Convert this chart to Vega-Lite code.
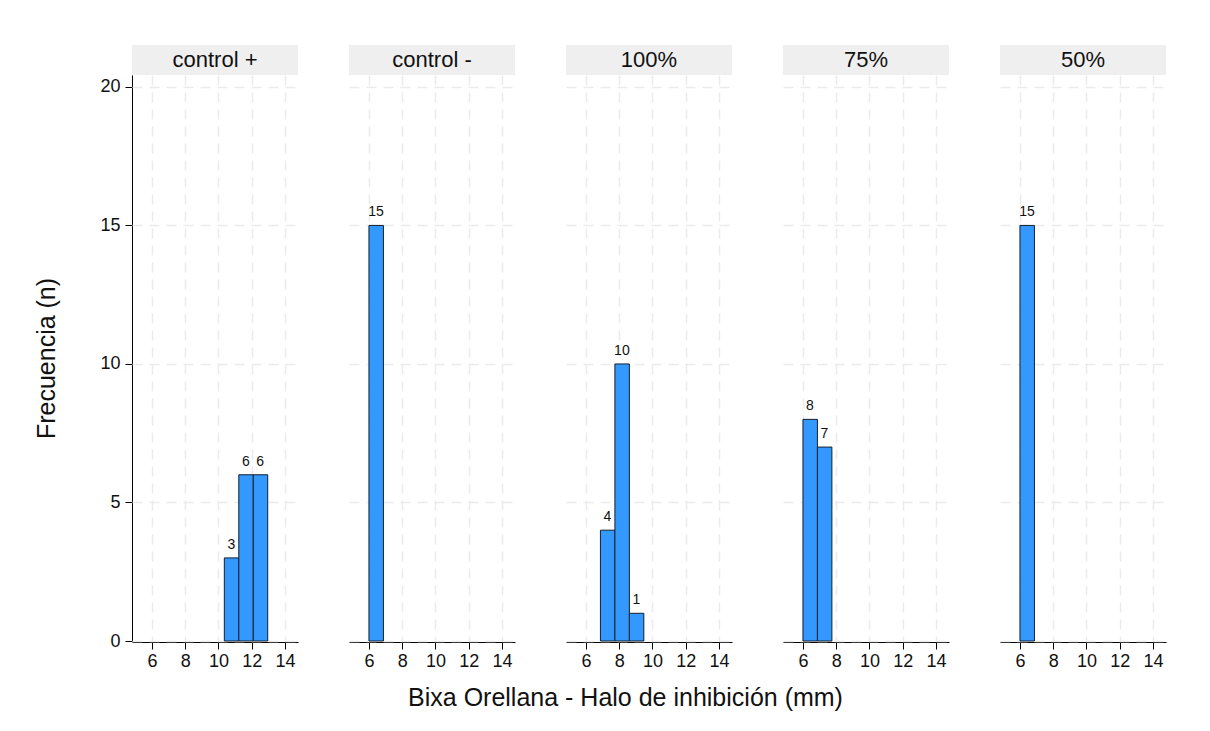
{
  "$schema": "https://vega.github.io/schema/vega-lite/v6.json",
  "padding": {"left": 34, "top": 45, "right": 10, "bottom": 10},
  "background": "white",
  "data": {"values": [
    {"grupo": "control +", "bin_start": 10.35, "bin_end": 11.22, "n": 3},
    {"grupo": "control +", "bin_start": 11.22, "bin_end": 12.09, "n": 6},
    {"grupo": "control +", "bin_start": 12.09, "bin_end": 12.96, "n": 6},
    {"grupo": "control -", "bin_start": 6.0, "bin_end": 6.87, "n": 15},
    {"grupo": "100%", "bin_start": 6.87, "bin_end": 7.74, "n": 4},
    {"grupo": "100%", "bin_start": 7.74, "bin_end": 8.61, "n": 10},
    {"grupo": "100%", "bin_start": 8.61, "bin_end": 9.48, "n": 1},
    {"grupo": "75%", "bin_start": 6.0, "bin_end": 6.87, "n": 8},
    {"grupo": "75%", "bin_start": 6.87, "bin_end": 7.74, "n": 7},
    {"grupo": "50%", "bin_start": 6.0, "bin_end": 6.87, "n": 15}
  ]},
  "title": {"text": "Bixa Orellana - Halo de inhibición (mm)", "orient": "bottom", "anchor": "middle", "fontSize": 25, "fontWeight": "normal", "color": "#111111", "offset": 16, "dx": 25},
  "facet": {"column": {"field": "grupo", "type": "nominal", "sort": ["control +", "control -", "100%", "75%", "50%"], "header": {"title": null, "labels": false}}},
  "spacing": 51,
  "resolve": {"scale": {"x": "shared", "y": "shared"}},
  "spec": {
    "width": 166,
    "height": 566,
    "layer": [
      {
        "transform": [{"aggregate": [{"op": "count", "as": "k"}], "groupby": ["grupo"]}],
        "mark": {"type": "rect", "fill": "#EFEFEF", "clip": false},
        "encoding": {
          "x": {"datum": 4.8, "type": "quantitative"},
          "x2": {"datum": 14.78},
          "y": {"datum": 20.43, "type": "quantitative"},
          "y2": {"datum": 21.51}
        }
      },
      {
        "transform": [{"aggregate": [{"op": "count", "as": "k"}], "groupby": ["grupo"]}],
        "mark": {"type": "text", "fontSize": 22, "color": "#111111", "align": "center", "baseline": "middle", "clip": false},
        "encoding": {
          "x": {"datum": 9.79, "type": "quantitative"},
          "y": {"datum": 20.97, "type": "quantitative"},
          "text": {"field": "grupo", "type": "nominal"}
        }
      },
      {
        "mark": {"type": "bar", "fill": "#3399FF", "stroke": "#14202e", "strokeWidth": 1},
        "encoding": {
          "x": {"field": "bin_start", "type": "quantitative",
                "scale": {"domain": [4.8, 14.78], "nice": false, "zero": false, "padding": 0},
                "axis": {"title": null, "values": [6, 8, 10, 12, 14], "grid": true, "gridDash": [10, 7], "gridColor": "#EBEBEB", "gridWidth": 1.5, "domainColor": "#000000", "tickColor": "#000000", "tickSize": 7, "labelFontSize": 18, "labelColor": "#111111", "labelPadding": 3}},
          "x2": {"field": "bin_end"},
          "y": {"field": "n", "type": "quantitative",
                "scale": {"domain": [0, 20.43], "nice": false, "zero": true, "padding": 0},
                "axis": {"title": "Frecuencia (n)", "values": [0, 5, 10, 15, 20], "grid": true, "gridDash": [10, 7], "gridColor": "#EBEBEB", "gridWidth": 1.5, "domainColor": "#000000", "tickColor": "#000000", "tickSize": 7, "labelFontSize": 18, "labelColor": "#111111", "labelPadding": 5, "titleFontSize": 25, "titleFontWeight": "normal", "titleColor": "#111111", "titlePadding": 40}},
          "y2": {"datum": 0}
        }
      },
      {
        "mark": {"type": "text", "fontSize": 14, "color": "#111111", "align": "center", "baseline": "bottom", "dx": 7, "dy": -6},
        "encoding": {
          "x": {"field": "bin_start", "type": "quantitative"},
          "y": {"field": "n", "type": "quantitative"},
          "text": {"field": "n", "type": "quantitative"}
        }
      }
    ]
  },
  "config": {
    "font": "Liberation Sans",
    "view": {"stroke": null}
  }
}
